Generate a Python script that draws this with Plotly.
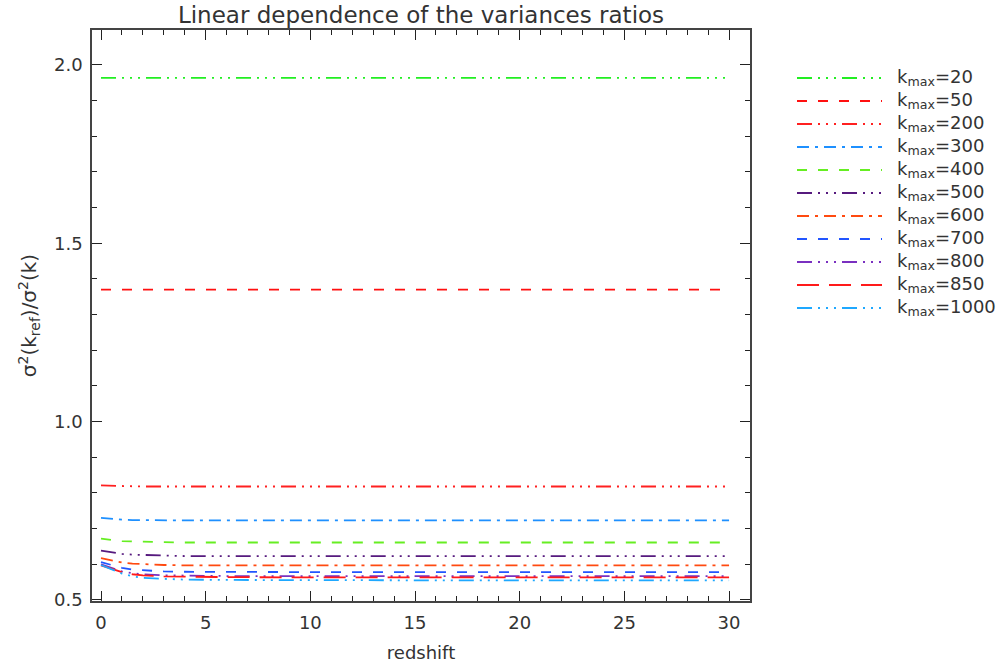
import plotly.graph_objects as go

# ---------------- data ----------------
redshift = [0, 0.5, 1, 1.5, 2, 3, 4, 6, 10, 15, 20, 25, 30]

kmax_values = ["20", "50", "200", "300", "400", "500", "600", "700", "800", "850", "1000"]

ratio_k20 = [1.964, 1.964, 1.964, 1.964, 1.964, 1.964, 1.964, 1.964, 1.964, 1.964, 1.964, 1.964, 1.964]
ratio_k50 = [1.370, 1.370, 1.370, 1.370, 1.370, 1.370, 1.370, 1.370, 1.370, 1.370, 1.370, 1.370, 1.370]
ratio_k200 = [0.821, 0.820, 0.819, 0.819, 0.818, 0.818, 0.818, 0.818, 0.818, 0.818, 0.818, 0.818, 0.818]
ratio_k300 = [0.730, 0.727, 0.725, 0.724, 0.7235, 0.723, 0.723, 0.723, 0.723, 0.723, 0.723, 0.723, 0.723]
ratio_k400 = [0.672, 0.668, 0.665, 0.664, 0.663, 0.662, 0.661, 0.661, 0.661, 0.661, 0.661, 0.661, 0.661]
ratio_k500 = [0.638, 0.633, 0.629, 0.627, 0.626, 0.624, 0.623, 0.623, 0.623, 0.623, 0.623, 0.623, 0.623]
ratio_k600 = [0.617, 0.610, 0.605, 0.602, 0.600, 0.598, 0.597, 0.597, 0.597, 0.597, 0.597, 0.597, 0.597]
ratio_k700 = [0.606, 0.597, 0.590, 0.585, 0.583, 0.580, 0.579, 0.578, 0.578, 0.578, 0.578, 0.578, 0.578]
ratio_k800 = [0.600, 0.590, 0.580, 0.575, 0.572, 0.569, 0.568, 0.567, 0.567, 0.567, 0.567, 0.567, 0.567]
ratio_k850 = [0.597, 0.588, 0.578, 0.572, 0.569, 0.566, 0.565, 0.564, 0.563, 0.563, 0.563, 0.563, 0.563]
ratio_k1000 = [0.598, 0.586, 0.574, 0.566, 0.562, 0.559, 0.557, 0.556, 0.555, 0.555, 0.555, 0.555, 0.555]

all_ratios = [ratio_k20, ratio_k50, ratio_k200, ratio_k300, ratio_k400, ratio_k500,
              ratio_k600, ratio_k700, ratio_k800, ratio_k850, ratio_k1000]

x_ticks = [0, 5, 10, 15, 20, 25, 30]
y_ticks = [0.5, 1.0, 1.5, 2.0]
y_tick_labels = ["0.5", "1.0", "1.5", "2.0"]

# ---------------- styles ----------------
DASH = "10px,11px"
DASHDOT = "12px,6px,3px,6px"
DASH3DOT = "15px,6px,2px,6px,2px,6px,2px,6px"
LONGDASH = "22px,10px"

colors = ["#22ee22", "#ff1010", "#ff2020", "#1e90ff", "#66ee22", "#561a7e",
          "#ff4a10", "#2255ff", "#7a30c0", "#ff1a1a", "#1ea8ff"]
dashes = [DASH3DOT, DASH, DASH3DOT, DASHDOT, DASH, DASH3DOT,
          DASHDOT, DASH, DASH3DOT, LONGDASH, DASH3DOT]

FONT = "DejaVu Sans"
TXT = "#333333"
W, H = 1002, 670
ML, MR, MT, MB = 92, 5, 30, 69
PW = W - ML - MR
PLOT_RIGHT = 750


def px_to_paper(px):
    return (px - ML) / PW


fig = go.Figure()

for lab, vals, c, d in zip(kmax_values, all_ratios, colors, dashes):
    fig.add_trace(go.Scatter(
        x=redshift, y=vals, mode="lines", name="k<sub>max</sub>=" + lab,
        line=dict(color=c, width=1.8, dash=d), showlegend=False,
        hoverinfo="skip", xaxis="x", yaxis="y"))

# ---------------- custom legend on its own hidden axes ----------------
row0, row_step = 78, 23.0
for i, (lab, c, d) in enumerate(zip(kmax_values, colors, dashes)):
    yy = row0 + i * row_step
    fig.add_trace(go.Scatter(
        x=[0, 85], y=[yy, yy], mode="lines", line=dict(color=c, width=1.8, dash=d),
        showlegend=False, hoverinfo="skip", xaxis="x2", yaxis="y2"))
    fig.add_trace(go.Scatter(
        x=[100], y=[yy], mode="text", text=["k<sub>max</sub>=" + lab],
        textposition="middle right", textfont=dict(family=FONT, size=18, color=TXT),
        showlegend=False, hoverinfo="skip", cliponaxis=False, xaxis="x2", yaxis="y2"))

axis_common = dict(
    showline=True, linecolor="#444444", linewidth=1.5, mirror="allticks",
    ticks="inside", ticklen=10, tickwidth=1.2, tickcolor="#222222",
    showgrid=False, zeroline=False,
    tickfont=dict(family=FONT, size=18, color=TXT),
)

fig.update_layout(
    width=W, height=H,
    margin=dict(l=ML, r=MR, t=MT, b=MB),
    paper_bgcolor="white", plot_bgcolor="white",
    hovermode=False,
    title=dict(text="Linear dependence of the variances ratios",
               x=((ML + PLOT_RIGHT) / 2) / W, xanchor="center",
               y=1 - 15 / H, yanchor="middle", yref="container",
               font=dict(family=FONT, size=23, color=TXT)),
    xaxis=dict(domain=[0, px_to_paper(PLOT_RIGHT)], range=[-0.43, 31.0],
               tickvals=x_ticks, ticktext=[str(v) for v in x_ticks],
               minor=dict(dtick=1, ticklen=5, tickcolor="#222222", ticks="inside"),
               title=dict(text="redshift", font=dict(family=FONT, size=18, color=TXT), standoff=14),
               ticklabelstandoff=5,
               anchor="y", **axis_common),
    yaxis=dict(domain=[0, 1], range=[0.497, 2.098],
               tickvals=y_ticks, ticktext=y_tick_labels,
               minor=dict(dtick=0.1, tick0=0, ticklen=5, tickcolor="#222222", ticks="inside"),
               title=dict(text="σ<sup>2</sup>(k<sub>ref</sub>)/σ<sup>2</sup>(k)",
                          font=dict(family=FONT, size=20, color=TXT), standoff=12),
               ticklabelstandoff=4,
               anchor="x", **axis_common),
    xaxis2=dict(domain=[px_to_paper(797), 1.0], range=[0, 1.0 * (W - MR - 797)],
                visible=False, anchor="y2", fixedrange=True),
    yaxis2=dict(domain=[0, 1], range=[H - MB, MT], visible=False, anchor="x2", fixedrange=True),
)

fig.write_html("out.html")
